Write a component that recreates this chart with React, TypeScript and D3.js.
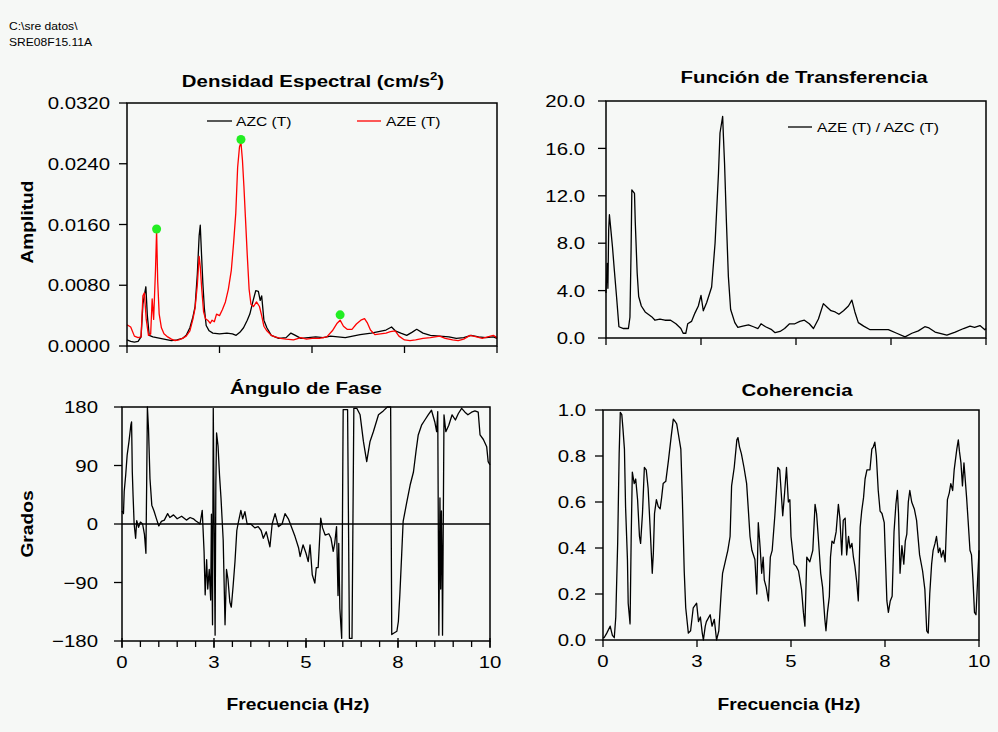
import React from "react";
import * as d3 from "d3";

// ---------------- DATA ----------------
const headerLines = ["C:\\sre datos\\", "SRE08F15.11A"];

const freqTicks = [0, 2.5, 5, 7.5, 10];
const freqTickLabels = ["0", "3", "5", "8", "10"];
const freqMinorTicks = d3.range(0, 10.01, 0.5);

const densityTicks = [0, 0.008, 0.016, 0.024, 0.032];
const transferTicks = [0, 4, 8, 12, 16, 20];
const phaseTicks = [-180, -90, 0, 90, 180];
const coherenceTicks = [0, 0.2, 0.4, 0.6, 0.8, 1.0];

// Densidad espectral AZC (T)  [Hz, amplitud]
const azcSpectrum: [number, number][] = [
  [0, 0.0008], [0.1, 0.0006], [0.2, 0.0005], [0.3, 0.0006], [0.38, 0.0012], [0.43, 0.0055], [0.48, 0.007],
  [0.51, 0.0078], [0.55, 0.004], [0.6, 0.0014], [0.7, 0.0012], [0.8, 0.0011], [0.9, 0.001], [1.0, 0.0009],
  [1.1, 0.0008], [1.2, 0.0007], [1.35, 0.0008], [1.5, 0.001], [1.6, 0.0014], [1.7, 0.0024], [1.78, 0.0038],
  [1.84, 0.0052], [1.9, 0.0094], [1.95, 0.0145], [1.98, 0.0159], [2.01, 0.0125], [2.05, 0.0083], [2.09, 0.005],
  [2.14, 0.0027], [2.22, 0.002], [2.32, 0.0017], [2.5, 0.0016], [2.7, 0.0017], [2.85, 0.0016], [2.95, 0.0014],
  [3.05, 0.0018], [3.15, 0.0024], [3.25, 0.0034], [3.32, 0.0042], [3.41, 0.006], [3.48, 0.0073], [3.55, 0.0072],
  [3.6, 0.006], [3.64, 0.0066], [3.7, 0.0034], [3.78, 0.0024], [3.9, 0.0014], [4.1, 0.001], [4.3, 0.0011],
  [4.43, 0.0017], [4.55, 0.0014], [4.7, 0.001], [4.9, 0.0011], [5.1, 0.0012], [5.3, 0.0011], [5.5, 0.0013],
  [5.7, 0.0012], [5.9, 0.0011], [6.1, 0.0013], [6.3, 0.0015], [6.45, 0.0016], [6.6, 0.0017], [6.8, 0.0019],
  [7.0, 0.0021], [7.15, 0.0025], [7.25, 0.002], [7.4, 0.0017], [7.56, 0.0014], [7.7, 0.0018], [7.83, 0.0022],
  [8.0, 0.0017], [8.2, 0.0014], [8.45, 0.0013], [8.7, 0.0012], [8.9, 0.001], [9.1, 0.0011], [9.3, 0.0014],
  [9.5, 0.0012], [9.7, 0.0011], [9.9, 0.0012], [10, 0.001],
];

// Densidad espectral AZE (T)
const azeSpectrum: [number, number][] = [
  [0, 0.0028], [0.1, 0.0025], [0.2, 0.0013], [0.3, 0.0011], [0.38, 0.0012], [0.43, 0.0066], [0.47, 0.007],
  [0.52, 0.0035], [0.58, 0.0014], [0.64, 0.0016], [0.68, 0.0062], [0.72, 0.0035], [0.77, 0.01], [0.8, 0.0152],
  [0.83, 0.0085], [0.87, 0.0042], [0.93, 0.0024], [1.0, 0.0016], [1.1, 0.0012], [1.2, 0.0009], [1.3, 0.0007],
  [1.4, 0.0008], [1.5, 0.001], [1.6, 0.0013], [1.7, 0.002], [1.78, 0.0035], [1.84, 0.005], [1.9, 0.008],
  [1.95, 0.0118], [1.98, 0.0105], [2.02, 0.0075], [2.07, 0.0045], [2.12, 0.0036], [2.18, 0.0034], [2.25, 0.003],
  [2.3, 0.0034], [2.36, 0.0032], [2.42, 0.0042], [2.5, 0.004], [2.58, 0.0048], [2.66, 0.0058], [2.74, 0.0075],
  [2.82, 0.01], [2.88, 0.0135], [2.94, 0.0175], [2.99, 0.0235], [3.04, 0.0262], [3.08, 0.0268], [3.12, 0.0245],
  [3.16, 0.021], [3.2, 0.017], [3.25, 0.012], [3.3, 0.0075], [3.35, 0.0055], [3.42, 0.0052], [3.5, 0.0058],
  [3.58, 0.0052], [3.64, 0.004], [3.7, 0.0026], [3.78, 0.002], [3.9, 0.0014], [4.0, 0.0012], [4.15, 0.001],
  [4.3, 0.0009], [4.5, 0.0008], [4.7, 0.0011], [4.85, 0.0009], [5.0, 0.001], [5.2, 0.001], [5.4, 0.0012],
  [5.55, 0.002], [5.68, 0.003], [5.76, 0.0034], [5.85, 0.0026], [5.95, 0.0022], [6.08, 0.0022], [6.2, 0.0029],
  [6.32, 0.0034], [6.42, 0.0036], [6.5, 0.003], [6.58, 0.0021], [6.7, 0.0015], [6.85, 0.0016], [7.0, 0.0017],
  [7.12, 0.0019], [7.25, 0.002], [7.35, 0.0013], [7.5, 0.0008], [7.65, 0.0007], [7.8, 0.0008], [8.0, 0.001],
  [8.2, 0.0011], [8.45, 0.0013], [8.6, 0.001], [8.8, 0.0008], [8.95, 0.0007], [9.1, 0.0009], [9.27, 0.0014],
  [9.45, 0.0012], [9.6, 0.001], [9.75, 0.0012], [9.9, 0.0014], [10, 0.0011],
];

// Picos marcados (puntos verdes)
const spectralPeaks: [number, number][] = [[0.8, 0.0154], [3.08, 0.0272], [5.76, 0.0041]];

// Función de transferencia AZE (T) / AZC (T)
const transferFn: [number, number][] = [
  [0, 3.8], [0.03, 6.3], [0.05, 4.2], [0.07, 9.1], [0.09, 10.4], [0.12, 9.4], [0.17, 7.7], [0.22, 5.7], [0.28, 3.4],
  [0.34, 0.95], [0.46, 0.8], [0.59, 0.8], [0.63, 1.75], [0.66, 7.4], [0.68, 12.5], [0.75, 12.2], [0.77, 9.8],
  [0.82, 5.5], [0.86, 3.5], [0.93, 2.7], [1.03, 2.2], [1.2, 1.8], [1.29, 1.5], [1.42, 1.6], [1.55, 1.5], [1.7, 1.5],
  [1.84, 1.2], [1.97, 0.8], [2.03, 0.4], [2.1, 0.4], [2.15, 1.2], [2.25, 1.4], [2.34, 2.1], [2.43, 2.7], [2.5, 3.6],
  [2.56, 2.3], [2.65, 3.0], [2.78, 4.3], [2.87, 8.0], [2.96, 13.9], [3.0, 17.3], [3.04, 18.1], [3.07, 18.7],
  [3.09, 17.0], [3.12, 14.7], [3.17, 9.7], [3.22, 5.2], [3.28, 2.4], [3.39, 1.3], [3.47, 0.9], [3.6, 1.0],
  [3.75, 1.1], [3.88, 0.95], [4.0, 0.8], [4.08, 1.2], [4.2, 0.95], [4.36, 0.7], [4.45, 0.45], [4.58, 0.55],
  [4.7, 0.8], [4.83, 1.2], [4.97, 1.2], [5.1, 1.4], [5.22, 1.5], [5.35, 1.2], [5.46, 0.8], [5.59, 1.6], [5.72, 2.9],
  [5.82, 2.6], [5.92, 2.3], [6.03, 2.2], [6.13, 2.0], [6.25, 2.3], [6.38, 2.7], [6.47, 3.2], [6.55, 2.2],
  [6.64, 1.3], [6.78, 1.0], [6.95, 0.7], [7.2, 0.7], [7.43, 0.7], [7.65, 0.4], [7.87, 0.1], [8.05, 0.4],
  [8.22, 0.6], [8.39, 0.95], [8.5, 0.85], [8.66, 0.5], [8.97, 0.25], [9.19, 0.5], [9.41, 0.8], [9.58, 1.0],
  [9.7, 0.9], [9.84, 1.05], [9.97, 0.7], [10, 0.8],
];

// Ángulo de fase (grados)
const phaseAngle: [number, number][] = [
  [0, 20], [0.04, 16], [0.06, 50], [0.1, 75], [0.14, 106], [0.19, 127], [0.24, 152], [0.26, 157], [0.27, 120],
  [0.28, 80], [0.3, 45], [0.33, 0], [0.37, -22], [0.4, 5], [0.45, -5], [0.5, 3], [0.56, 0], [0.61, -16],
  [0.65, -45], [0.67, 60], [0.69, 180], [0.72, 147], [0.76, 70], [0.81, 29], [0.87, 20], [0.93, 9], [1.0, -3],
  [1.07, 4], [1.15, 6], [1.24, 16], [1.3, 10], [1.4, 14], [1.5, 8], [1.62, 12], [1.75, 6], [1.85, 10], [1.94, 8],
  [2.0, 5], [2.08, 2], [2.12, 0], [2.18, 21], [2.23, -42], [2.26, -109], [2.3, -55], [2.33, -100], [2.37, -70],
  [2.41, -117], [2.43, 15], [2.46, -155], [2.48, 178], [2.53, -171], [2.55, 60], [2.57, 140], [2.61, 120],
  [2.65, 75], [2.69, 40], [2.75, -25], [2.8, -155], [2.84, -70], [2.88, -85], [2.93, -120], [2.97, -128],
  [3.02, -95], [3.07, -58], [3.12, -10], [3.16, 2], [3.23, 21], [3.28, 8], [3.34, 19], [3.4, 0], [3.5, 0],
  [3.61, -6], [3.7, -4], [3.78, -10], [3.84, -22], [3.92, -12], [4.02, -35], [4.08, 0], [4.16, 16], [4.25, -4],
  [4.35, 0], [4.43, 16], [4.52, 8], [4.6, -4], [4.7, -19], [4.8, -37], [4.84, -50], [4.92, -32], [5.0, -45],
  [5.06, -58], [5.11, -32], [5.17, -78], [5.24, -91], [5.28, -67], [5.33, -67], [5.4, 9], [5.45, -6], [5.52, -17],
  [5.62, -15], [5.68, -22], [5.74, -42], [5.78, -30], [5.83, -4], [5.87, -110], [5.89, -30], [5.92, -130],
  [5.97, -176], [6.01, 176], [6.13, 176], [6.18, -176], [6.25, -176], [6.3, 178], [6.38, 178], [6.47, 168],
  [6.56, 127], [6.65, 96], [6.74, 127], [6.83, 142], [6.97, 168], [7.1, 174], [7.21, 180], [7.3, 180],
  [7.33, -170], [7.38, -168], [7.47, -165], [7.51, -150], [7.55, -109], [7.6, -47], [7.64, 4], [7.74, 34],
  [7.83, 60], [7.92, 80], [7.99, 112], [8.05, 137], [8.14, 152], [8.23, 160], [8.32, 168], [8.41, 175],
  [8.46, 165], [8.5, 157], [8.55, 142], [8.58, 173], [8.61, -171], [8.64, 40], [8.66, -100], [8.68, 20],
  [8.7, -80], [8.71, -171], [8.75, 168], [8.8, 142], [8.88, 152], [8.97, 168], [9.06, 160], [9.14, 170],
  [9.23, 178], [9.32, 172], [9.4, 168], [9.5, 172], [9.59, 174], [9.68, 172], [9.73, 137], [9.82, 130],
  [9.91, 119], [9.95, 96], [10, 91],
];

// Coherencia
const coherence: [number, number][] = [
  [0, 0.01], [0.03, 0.01], [0.1, 0.03], [0.19, 0.06], [0.25, 0.02], [0.3, 0.01], [0.34, 0.1], [0.39, 0.42],
  [0.43, 0.81], [0.46, 0.99], [0.5, 0.98], [0.53, 0.92], [0.57, 0.83], [0.6, 0.58], [0.65, 0.35], [0.67, 0.16],
  [0.72, 0.07], [0.75, 0.45], [0.78, 0.73], [0.83, 0.68], [0.87, 0.7], [0.92, 0.61], [0.97, 0.45], [1.0, 0.42],
  [1.05, 0.55], [1.1, 0.75], [1.15, 0.74], [1.2, 0.66], [1.25, 0.5], [1.31, 0.29], [1.34, 0.38], [1.37, 0.55],
  [1.42, 0.61], [1.47, 0.58], [1.52, 0.57], [1.56, 0.62], [1.6, 0.68], [1.67, 0.69], [1.74, 0.78], [1.81, 0.88],
  [1.87, 0.96], [1.92, 0.95], [1.96, 0.94], [2.0, 0.9], [2.07, 0.83], [2.11, 0.62], [2.16, 0.3], [2.2, 0.14],
  [2.27, 0.03], [2.33, 0.04], [2.4, 0.14], [2.49, 0.16], [2.54, 0.08], [2.59, 0.1], [2.64, 0.03], [2.67, 0.0],
  [2.72, 0.06], [2.75, 0.08], [2.85, 0.11], [2.9, 0.06], [2.96, 0.09], [3.02, 0.0], [3.08, 0.04], [3.14, 0.2],
  [3.18, 0.29], [3.25, 0.34], [3.32, 0.39], [3.38, 0.45], [3.42, 0.67], [3.49, 0.75], [3.56, 0.87], [3.59, 0.88],
  [3.63, 0.84], [3.68, 0.81], [3.75, 0.75], [3.82, 0.68], [3.86, 0.58], [3.91, 0.45], [3.96, 0.39], [4.04, 0.35],
  [4.09, 0.2], [4.13, 0.51], [4.18, 0.4], [4.22, 0.29], [4.26, 0.36], [4.29, 0.26], [4.34, 0.23], [4.4, 0.17],
  [4.45, 0.36], [4.5, 0.39], [4.57, 0.54], [4.65, 0.75], [4.7, 0.74], [4.74, 0.64], [4.78, 0.54], [4.83, 0.64],
  [4.88, 0.75], [4.93, 0.6], [4.97, 0.61], [5.0, 0.45], [5.08, 0.33], [5.14, 0.32], [5.2, 0.3], [5.28, 0.22],
  [5.33, 0.12], [5.37, 0.06], [5.42, 0.36], [5.5, 0.34], [5.58, 0.39], [5.64, 0.59], [5.68, 0.55], [5.72, 0.46],
  [5.79, 0.29], [5.84, 0.23], [5.9, 0.09], [5.93, 0.04], [5.97, 0.12], [6.02, 0.19], [6.05, 0.36], [6.09, 0.43],
  [6.14, 0.42], [6.2, 0.47], [6.26, 0.59], [6.3, 0.53], [6.35, 0.37], [6.39, 0.52], [6.44, 0.53], [6.48, 0.37],
  [6.53, 0.45], [6.57, 0.4], [6.62, 0.42], [6.66, 0.36], [6.7, 0.32], [6.75, 0.25], [6.79, 0.17], [6.84, 0.49],
  [6.88, 0.56], [6.93, 0.62], [6.97, 0.7], [7.02, 0.74], [7.1, 0.74], [7.15, 0.83], [7.19, 0.84], [7.23, 0.86],
  [7.27, 0.8], [7.32, 0.65], [7.37, 0.56], [7.42, 0.55], [7.48, 0.51], [7.55, 0.17], [7.59, 0.12], [7.64, 0.17],
  [7.69, 0.19], [7.74, 0.47], [7.79, 0.59], [7.83, 0.65], [7.86, 0.55], [7.9, 0.29], [7.95, 0.41], [8.0, 0.33],
  [8.04, 0.43], [8.08, 0.46], [8.12, 0.6], [8.16, 0.65], [8.21, 0.6], [8.28, 0.57], [8.34, 0.52], [8.42, 0.37],
  [8.5, 0.3], [8.56, 0.22], [8.61, 0.04], [8.65, 0.03], [8.69, 0.2], [8.74, 0.33], [8.78, 0.39], [8.83, 0.42],
  [8.87, 0.45], [8.92, 0.38], [8.96, 0.4], [9.0, 0.36], [9.05, 0.39], [9.1, 0.34], [9.16, 0.61], [9.21, 0.64],
  [9.25, 0.68], [9.3, 0.65], [9.34, 0.74], [9.41, 0.83], [9.45, 0.87], [9.48, 0.82], [9.52, 0.77], [9.56, 0.67],
  [9.6, 0.77], [9.67, 0.62], [9.71, 0.52], [9.76, 0.39], [9.8, 0.37], [9.84, 0.26], [9.88, 0.12], [9.92, 0.11],
  [9.96, 0.25], [10, 0.39],
];

// ---------------- DRAWING ----------------
const FONT = "'Liberation Sans', Arial, Helvetica, sans-serif";
const BG = "#f6f8f6";
const SX = 1.2;

type TProps = {
  x: number; y: number; children: React.ReactNode; anchor?: "start" | "middle" | "end";
  size?: number; weight?: string | number; rotate?: number; sx?: number; dy?: string; fill?: string;
};
function T({ x, y, children, anchor = "start", size = 17, weight = "normal", rotate = 0, sx = SX, dy, fill = "#000" }: TProps) {
  return (
    <text
      transform={`translate(${x},${y}) rotate(${rotate}) scale(${sx},1)`}
      textAnchor={anchor}
      fontSize={size}
      fontWeight={weight}
      fontFamily={FONT}
      fill={fill}
      dy={dy}
    >
      {children}
    </text>
  );
}

type PanelProps = {
  left: number; right: number; top: number; bottom: number;
  yDomain: [number, number]; yTicks: number[]; yFmt: (v: number) => string; labelGap: number;
  xLabels?: boolean; minor?: boolean; zeroLine?: boolean;
  series: { data: [number, number][]; color: string }[];
  dots?: [number, number][];
};

function Panel(p: PanelProps) {
  const x = d3.scaleLinear().domain([0, 10]).range([p.left, p.right]);
  const y = d3.scaleLinear().domain(p.yDomain).range([p.bottom, p.top]);
  const line = d3.line<[number, number]>().x((d) => x(d[0])).y((d) => y(d[1]));
  return (
    <g>
      {p.zeroLine && <line x1={p.left} x2={p.right} y1={y(0)} y2={y(0)} stroke="#000" strokeWidth={1.3} />}
      {p.series.map((s, i) => (
        <path key={i} d={line(s.data) || ""} fill="none" stroke={s.color} strokeWidth={1.3} strokeLinejoin="round" />
      ))}
      {p.dots && p.dots.map((d, i) => <circle key={i} cx={x(d[0])} cy={y(d[1])} r={4.5} fill="#22ee22" />)}
      <rect x={p.left} y={p.top} width={p.right - p.left} height={p.bottom - p.top} fill="none" stroke="#000" strokeWidth={1.5} />
      {p.yTicks.map((t) => (
        <g key={"y" + t}>
          <line x1={p.left - 8} x2={p.left} y1={y(t)} y2={y(t)} stroke="#000" strokeWidth={1.3} />
          <T x={p.left - p.labelGap} y={y(t)} anchor="end" dy="0.36em">{p.yFmt(t)}</T>
        </g>
      ))}
      {p.minor && freqMinorTicks.map((t) => (
        <line key={"m" + t} x1={x(t)} x2={x(t)} y1={p.bottom} y2={p.bottom + 6} stroke="#000" strokeWidth={1.3} />
      ))}
      {freqTicks.map((t, i) => (
        <g key={"x" + t}>
          <line x1={x(t)} x2={x(t)} y1={p.bottom - (p.minor ? 3 : 0)} y2={p.bottom + 7} stroke="#000" strokeWidth={1.3} />
          {p.xLabels && <T x={x(t)} y={p.bottom + 27} anchor="middle">{freqTickLabels[i]}</T>}
        </g>
      ))}
    </g>
  );
}

export default function App() {
  const f4 = d3.format(".4f");
  const f1 = d3.format(".1f");
  const f0 = d3.format("d");
  return (
    <svg width={998} height={732} style={{ position: "absolute", left: 0, top: 0, background: BG }}>
      <rect x={0} y={0} width={998} height={732} fill={BG} />
      <T x={9} y={30} size={11} sx={1.1}>{headerLines[0]}</T>
      <T x={9} y={46} size={11} sx={1.1}>{headerLines[1]}</T>

      {/* Titles */}
      <T x={313} y={87} anchor="middle" size={17} weight="bold">
        Densidad Espectral (cm/s<tspan fontSize={11} dy={-7}>2</tspan><tspan dy={7}>)</tspan>
      </T>
      <T x={804} y={83} anchor="middle" size={17} weight="bold">Función de Transferencia</T>
      <T x={306} y={394} anchor="middle" size={17} weight="bold">Ángulo de Fase</T>
      <T x={797} y={396} anchor="middle" size={17} weight="bold">Coherencia</T>

      <T x={33} y={222} anchor="middle" size={16} weight="bold" rotate={-90}>Amplitud</T>
      <T x={33} y={524} anchor="middle" size={16} weight="bold" rotate={-90}>Grados</T>
      <T x={298} y={710} anchor="middle" size={16} weight="bold">Frecuencia (Hz)</T>
      <T x={789} y={710} anchor="middle" size={16} weight="bold">Frecuencia (Hz)</T>

      <Panel left={127} right={497} top={103} bottom={346} yDomain={[0, 0.032]} yTicks={densityTicks} yFmt={f4}
        labelGap={17}
        series={[{ data: azcSpectrum, color: "#000" }, { data: azeSpectrum, color: "#ff0000" }]}
        dots={spectralPeaks} />
      <Panel left={606} right={986} top={101} bottom={338} yDomain={[0, 20]} yTicks={transferTicks} yFmt={f1}
        labelGap={21} series={[{ data: transferFn, color: "#000" }]} />
      <Panel left={122} right={490} top={407} bottom={641} yDomain={[-180, 180]} yTicks={phaseTicks} yFmt={f0}
        labelGap={24} xLabels minor zeroLine series={[{ data: phaseAngle, color: "#000" }]} />
      <Panel left={603} right={979} top={410} bottom={640} yDomain={[0, 1]} yTicks={coherenceTicks} yFmt={f1}
        labelGap={17} xLabels series={[{ data: coherence, color: "#000" }]} />

      {/* Legends */}
      <line x1={207} x2={232} y1={121} y2={121} stroke="#000" strokeWidth={1.3} />
      <T x={236} y={126} size={13}>AZC (T)</T>
      <line x1={357} x2={381} y1={121} y2={121} stroke="#ff0000" strokeWidth={1.3} />
      <T x={386} y={126} size={13}>AZE (T)</T>
      <line x1={788} x2={812} y1={127} y2={127} stroke="#000" strokeWidth={1.3} />
      <T x={817} y={132} size={13}>AZE (T) / AZC (T)</T>
    </svg>
  );
}
